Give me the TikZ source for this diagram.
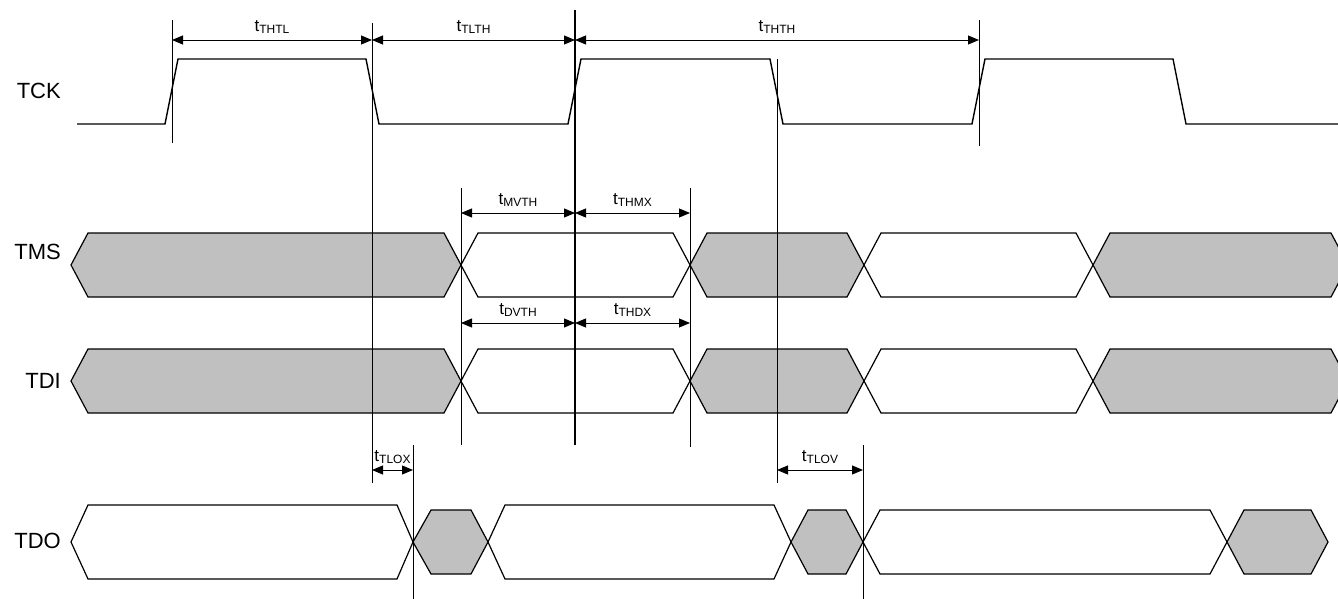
\documentclass[tikz,border=0pt]{standalone}
\usepackage{fontspec}
\setmainfont{Liberation Sans}
\usetikzlibrary{arrows.meta}

\definecolor{busgray}{HTML}{C0C0C0}

\newcommand{\tsub}[1]{{\fontsize{17}{17}\selectfont t}\raisebox{-2pt}{\fontsize{12}{12}\selectfont #1}}

\tikzset{
    wave/.style={line width=1.4pt, line join=miter},
    busseg/.style={line width=1.2pt, fill=white},
    busfill/.style={busseg, fill=busgray},
    guide/.style={line width=0.9pt},
    dimarrow/.style={line width=0.9pt, {Triangle[length=11pt,width=9pt]}-{Triangle[length=11pt,width=9pt]}},
    siglabel/.style={anchor=east, inner sep=0pt, font=\fontsize{22}{22}\selectfont},
    tlab/.style={midway, above=6pt, inner sep=0pt},
}

\begin{document}
\begin{tikzpicture}[x=1pt, y=-1pt]
    \useasboundingbox (0,0) rectangle (1338,599);
    \clip (0,0) rectangle (1338,599);

    \node[siglabel] (tck) at (61,91) {TCK};
    \node[siglabel] (tms) at (61,252) {TMS};
    \node[siglabel] (tdi) at (61,381) {TDI};
    \node[siglabel] (tdo) at (61,541) {TDO};

    % clock
    \draw[wave] (77,124) -- (165,124) -- (178,59) -- (366,59) -- (379,124) -- (568,124) -- (581,59) -- (770,59) -- (783,124)
        -- (972,124) -- (985,59) -- (1173,59) -- (1186,124) -- (1338,124);

    % TMS
    \draw[busfill] (71,265) -- (88,233) -- (444,233) -- (461,265) -- (444,297) -- (88,297) -- cycle;
    \draw[busseg] (461,265) -- (478,233) -- (673,233) -- (690,265) -- (673,297) -- (478,297) -- cycle;
    \draw[busfill] (690,265) -- (707,233) -- (847,233) -- (864,265) -- (847,297) -- (707,297) -- cycle;
    \draw[busseg] (864,265) -- (881,233) -- (1076,233) -- (1093,265) -- (1076,297) -- (881,297) -- cycle;
    \draw[busfill] (1093,265) -- (1110,233) -- (1331,233) -- (1348,265) -- (1331,297) -- (1110,297) -- cycle;

    % TDI
    \draw[busfill] (71,381) -- (88,349) -- (444,349) -- (461,381) -- (444,413) -- (88,413) -- cycle;
    \draw[busseg] (461,381) -- (478,349) -- (673,349) -- (690,381) -- (673,413) -- (478,413) -- cycle;
    \draw[busfill] (690,381) -- (707,349) -- (847,349) -- (864,381) -- (847,413) -- (707,413) -- cycle;
    \draw[busseg] (864,381) -- (881,349) -- (1076,349) -- (1093,381) -- (1076,413) -- (881,413) -- cycle;
    \draw[busfill] (1093,381) -- (1110,349) -- (1331,349) -- (1348,381) -- (1331,413) -- (1110,413) -- cycle;

    % TDO
    \draw[busseg] (71,542) -- (88,505) -- (397,505) -- (413,542) -- (397,579) -- (88,579) -- cycle;
    \draw[busfill] (413,542) -- (431,510) -- (471,510) -- (488,542) -- (471,574) -- (431,574) -- cycle;
    \draw[busseg] (488,542) -- (505,505) -- (774,505) -- (791,542) -- (774,579) -- (505,579) -- cycle;
    \draw[busfill] (791,542) -- (808,510) -- (846,510) -- (863,542) -- (846,574) -- (808,574) -- cycle;
    \draw[busseg] (863,542) -- (880,510) -- (1210,510) -- (1227,542) -- (1210,574) -- (880,574) -- cycle;
    \draw[busfill] (1227,542) -- (1244,510) -- (1311,510) -- (1328,542) -- (1311,574) -- (1244,574) -- cycle;

    % edges
    \coordinate (ckR1) at (172,20);  \coordinate (ckR1e) at (172,143);
    \coordinate (ckF1) at (372,23);  \coordinate (ckF1e) at (372,483);
    \coordinate (ckR2) at (575,10);  \coordinate (ckR2e) at (575,445);
    \coordinate (ckF2) at (777,59);  \coordinate (ckF2e) at (777,483);
    \coordinate (ckR3) at (979,20);  \coordinate (ckR3e) at (979,146);
    \coordinate (msV) at (461,188);  \coordinate (msVe) at (461,445);
    \coordinate (msX) at (690,188);  \coordinate (msXe) at (690,447);
    \coordinate (doX) at (413,445);  \coordinate (doXe) at (413,599);
    \coordinate (doV) at (863,445);  \coordinate (doVe) at (863,599);

    \draw[guide] (ckR1) -- (ckR1e);
    \draw[guide] (ckF1) -- (ckF1e);
    \draw[guide, line width=1.1pt] (ckR2) -- (ckR2e);
    \draw[guide] (ckF2) -- (ckF2e);
    \draw[guide] (ckR3) -- (ckR3e);
    \draw[guide] (msV) -- (msVe);
    \draw[guide] (msX) -- (msXe);
    \draw[guide] (doX) -- (doXe);
    \draw[guide] (doV) -- (doVe);

    % timings
    \coordinate (lvTck) at (0,40);
    \coordinate (lvTms) at (0,213);
    \coordinate (lvTdi) at (0,323);
    \coordinate (lvTdo) at (0,470);

    \draw[dimarrow] (ckR1 |- lvTck) -- node[tlab] (thtl) {\tsub{THTL}} (ckF1 |- lvTck);
    \draw[dimarrow] (ckF1 |- lvTck) -- node[tlab] (tlth) {\tsub{TLTH}} (ckR2 |- lvTck);
    \draw[dimarrow] (ckR2 |- lvTck) -- node[tlab] (thth) {\tsub{THTH}} (ckR3 |- lvTck);

    \draw[dimarrow] (msV |- lvTms) -- node[tlab] (tmvth) {\tsub{MVTH}} (ckR2 |- lvTms);
    \draw[dimarrow] (ckR2 |- lvTms) -- node[tlab] (tthmx) {\tsub{THMX}} (msX |- lvTms);

    \draw[dimarrow] (msV |- lvTdi) -- node[tlab] (tdvth) {\tsub{DVTH}} (ckR2 |- lvTdi);
    \draw[dimarrow] (ckR2 |- lvTdi) -- node[tlab] (tthdx) {\tsub{THDX}} (msX |- lvTdi);

    \draw[dimarrow] (ckF1 |- lvTdo) -- node[tlab] (ttlox) {\tsub{TLOX}} (doX |- lvTdo);
    \draw[dimarrow] (ckF2 |- lvTdo) -- node[tlab] (ttlov) {\tsub{TLOV}} (doV |- lvTdo);

\end{tikzpicture}
\end{document}
